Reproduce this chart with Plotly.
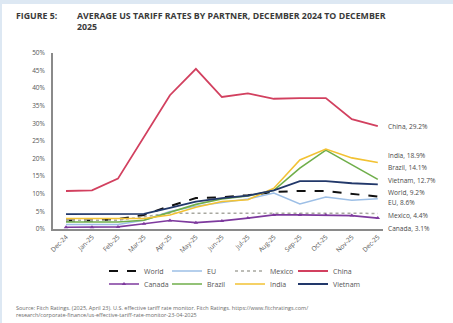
import plotly.graph_objects as go

months = ["Dec-24", "Jan-25", "Feb-25", "Mar-25", "Apr-25", "May-25", "Jun-25",
          "Jul-25", "Aug-25", "Sep-25", "Oct-25", "Nov-25", "Dec-25"]

world   = [2.4, 2.4, 2.8, 4.0, 6.5, 8.8, 9.0, 9.6, 10.5, 10.8, 10.8, 9.9, 9.2]
eu      = [1.3, 1.3, 1.3, 2.5, 5.0, 6.5, 7.5, 8.5, 10.2, 7.1, 9.1, 8.2, 8.6]
mexico  = [2.5, 2.5, 2.5, 3.5, 4.5, 4.5, 4.5, 4.6, 4.7, 4.7, 4.6, 4.5, 4.4]
china   = [10.8, 11.0, 14.3, 26.0, 38.0, 45.5, 37.5, 38.5, 37.0, 37.2, 37.2, 31.2, 29.2]
canada  = [0.5, 0.5, 0.6, 1.5, 2.4, 1.8, 2.3, 3.1, 4.0, 4.0, 4.0, 3.8, 3.1]
brazil  = [2.0, 2.0, 2.0, 2.5, 4.8, 7.0, 8.5, 9.4, 11.0, 17.3, 22.4, 18.2, 14.1]
india   = [3.0, 3.0, 3.0, 3.0, 4.0, 6.2, 7.8, 8.3, 11.6, 19.6, 22.7, 20.2, 18.9]
vietnam = [4.2, 4.2, 4.2, 4.3, 6.0, 7.8, 8.8, 9.5, 11.0, 13.6, 13.6, 13.0, 12.7]

W, H = 453, 323
L, R, T, B = 53, 70, 53, 94
PW, PH = W - L - R, H - T - B

def px(x):
    return (x - L) / PW

def py(y):
    return (H - B - y) / PH

x = list(range(len(months)))

series = [
    ("World", world, dict(color="#111111", width=2, dash="dash"), None, "legend"),
    ("EU", eu, dict(color="#9DBFE6", width=1.5), None, "legend"),
    ("Mexico", mexico, dict(color="#A8A8A0", width=1.5, dash="dot"), None, "legend"),
    ("China", china, dict(color="#D2405F", width=1.8), None, "legend"),
    ("Canada", canada, dict(color="#7E3A9E", width=1.6), dict(symbol="triangle-up", size=4), "legend2"),
    ("Brazil", brazil, dict(color="#6FAE4A", width=1.6), None, "legend2"),
    ("India", india, dict(color="#F2C233", width=1.6), None, "legend2"),
    ("Vietnam", vietnam, dict(color="#22386A", width=1.8), None, "legend3"),
]

fig = go.Figure()
for name, vals, line, marker, lg in series:
    fig.add_trace(go.Scatter(
        x=x, y=vals, name=name, mode="lines+markers" if marker else "lines",
        line=line, marker=marker, legend=lg))

# end-of-line label positions (y in data units, adjusted to avoid overlap)
label_y = {"China": 29.2, "India": 21.0, "Brazil": 17.5, "Vietnam": 13.9,
           "World": 10.3, "EU": 7.4, "Mexico": 3.8, "Canada": 0.1}
for name, vals, line, marker, lg in series:
    fig.add_annotation(x=x[-1], y=label_y[name], xref="x", yref="y",
                       text=f"{name}, {vals[-1]:.1f}%", showarrow=False,
                       xanchor="left", yanchor="middle", xshift=8,
                       font=dict(size=6.6, color="#4a4a4a"))

fig.add_annotation(x=px(14), y=py(8), xref="paper", yref="paper",
                   text="<b>FIGURE 5:</b>", showarrow=False,
                   xanchor="left", yanchor="top",
                   font=dict(size=8.8, color="#3a3a3a", family="Open Sans"))
fig.add_annotation(x=px(75), y=py(8), xref="paper", yref="paper",
                   text="<b>AVERAGE US TARIFF RATES BY PARTNER, DECEMBER 2024 TO DECEMBER<br>2025</b>",
                   showarrow=False, xanchor="left", yanchor="top", align="left",
                   font=dict(size=8.8, color="#3a3a3a", family="Open Sans"))
fig.add_annotation(x=px(14), y=py(302), xref="paper", yref="paper",
                   text="Source: Fitch Ratings. (2025, April 23). U.S. effective tariff rate monitor. Fitch Ratings. https://www.fitchratings.com/<br>research/corporate-finance/us-effective-tariff-rate-monitor-23-04-2025",
                   showarrow=False, xanchor="left", yanchor="top", align="left",
                   font=dict(size=5.5, color="#6a6a6a"))

# light blue page frame
fig.add_shape(type="rect", xref="paper", yref="paper", x0=px(0), x1=px(W), y0=py(4), y1=py(0),
              fillcolor="#DDE8F3", line_width=0, layer="below")
fig.add_shape(type="rect", xref="paper", yref="paper", x0=px(0), x1=px(2), y0=py(H), y1=py(0),
              fillcolor="#DDE8F3", line_width=0, layer="below")

legend_common = dict(orientation="h", xanchor="left", yanchor="middle",
                     font=dict(size=7, color="#555555"), bgcolor="rgba(0,0,0,0)",
                     entrywidth=18, entrywidthmode="pixels", itemwidth=30,
                     tracegroupgap=0)
legend_last = dict(legend_common)
legend_last["entrywidth"] = 0

fig.update_layout(
    width=W, height=H,
    margin=dict(l=L, r=R, t=T, b=B),
    paper_bgcolor="white", plot_bgcolor="white",
    font=dict(family="Open Sans", color="#555555"),
    showlegend=True,
    legend=dict(x=px(104), y=py(271), **legend_common),
    legend2=dict(x=px(104), y=py(284), **legend_common),
    legend3=dict(x=px(293), y=py(284), **legend_last),
    xaxis=dict(range=[-0.5, 12.2], tickmode="array", tickvals=x, ticktext=months,
               tickangle=-45, showgrid=False, zeroline=False,
               showline=True, linecolor="#8a8a8a", linewidth=1.5,
               tickfont=dict(size=6.5, color="#555555"), ticks=""),
    yaxis=dict(range=[0, 50], dtick=5, ticksuffix="%", showgrid=False, zeroline=False,
               showline=True, linecolor="#8a8a8a", linewidth=1.5, ticklabelstandoff=5,
               tickfont=dict(size=6.5, color="#555555"), ticks=""),
)

fig.write_html("out.html")
